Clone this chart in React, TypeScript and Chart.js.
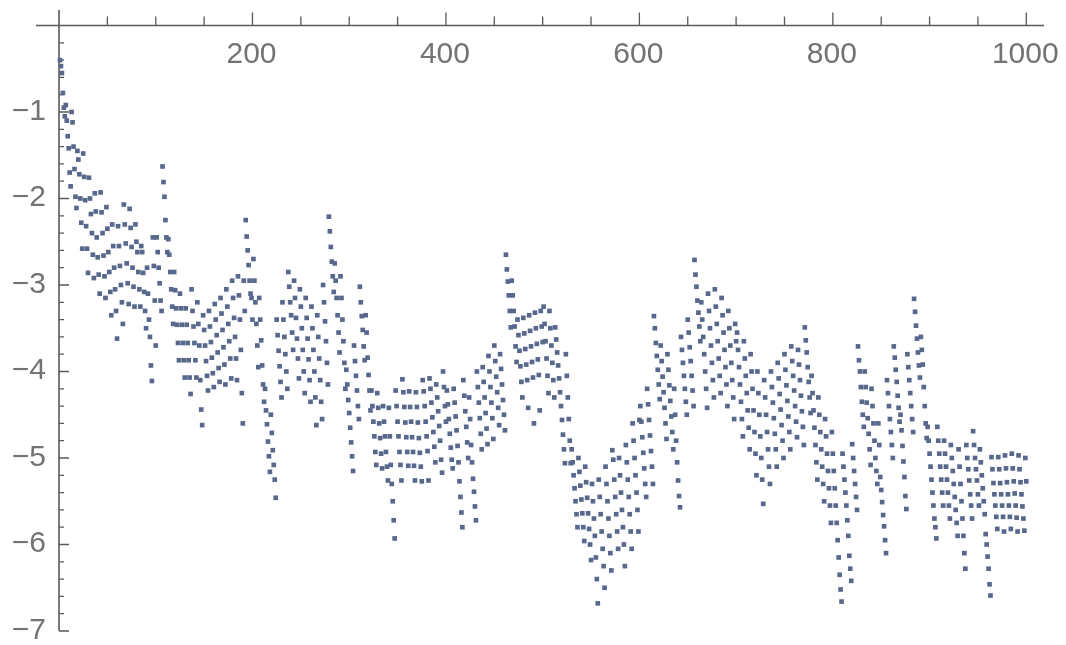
import React, { useEffect, useRef } from "react";
import { Chart, registerables } from "chart.js";
Chart.register(...registerables);

// values for n = 1..100, 101..200, ... (x = position in the full list)
const seg1 = [
  -0.40, -0.47, -0.55, -0.78, -0.95, -1.05,
  -0.92, -1.10, -1.28, -1.42, -1.70, -1.86,
  -1.00, -1.12, -1.40, -1.66, -1.98, -2.11,
  -1.45, -1.55, -1.72, -2.00, -2.28, -2.58,
  -1.48, -1.75, -2.02, -2.32, -2.58, -2.86,
  -1.76, -2.00, -2.18, -2.40, -2.65, -2.92,
  -1.94, -2.15, -2.45, -2.68, -2.88, -3.10,
  -1.93, -2.16, -2.40, -2.66, -2.90, -3.15,
  -2.10, -2.35, -2.62, -2.85, -3.08, -3.35,
  -2.30, -2.55, -2.80, -3.05, -3.30, -3.62,
  -2.32, -2.55, -2.78, -3.00, -3.20, -3.45,
  -2.07, -2.30, -2.52, -2.75, -2.98, -3.22,
  -2.12, -2.34, -2.56, -2.80, -3.02, -3.25,
  -2.30, -2.50, -2.62, -2.85, -3.05, -3.25,
  -2.55, -2.62, -2.86, -3.08, -3.30, -3.50,
  -2.80, -3.10, -3.40, -3.60, -3.93, -4.11,
  -2.45, -2.78, -3.18, -3.70,
];
const seg2 = [
  -2.45, -2.62, -2.80, -2.98, -3.18, -3.30,
  -1.63, -1.81, -1.98, -2.25, -2.45, -2.62,
  -2.47, -2.65, -2.85, -3.05, -3.25, -3.45,
  -2.85, -3.06, -3.27, -3.46, -3.67, -3.87,
  -3.10, -3.27, -3.46, -3.67, -3.87, -4.07,
  -3.27, -3.46, -3.67, -3.87, -4.07, -4.26,
  -3.05, -3.30, -3.48, -3.67, -3.87, -4.07,
  -3.20, -3.45, -3.70, -4.10, -4.44, -4.62,
  -3.35, -3.52, -3.70, -3.88, -4.05, -4.22,
  -3.30, -3.48, -3.66, -3.84, -4.02, -4.18,
  -3.22, -3.40, -3.58, -3.78, -3.96, -4.12,
  -3.15, -3.33, -3.52, -3.72, -3.92, -4.15,
  -3.05, -3.25, -3.45, -3.65, -3.85, -4.08,
  -2.95, -3.15, -3.38, -3.60, -3.85, -4.10,
  -2.90, -3.12, -3.40, -3.75, -4.25, -4.60,
  -2.95, -3.30,
  -2.25, -2.44, -2.60, -2.77, -2.95, -3.10,
  -3.15, -3.40,
];
const seg3 = [
  -2.70, -2.95, -3.20, -3.45, -3.70, -3.95,
  -3.15, -3.40, -3.64, -3.93, -4.15, -4.35,
  -4.20, -4.45, -4.61, -4.81, -4.98, -5.16,
  -4.50, -4.71, -4.91, -5.08, -5.25, -5.46,
  -3.40, -3.58, -3.76, -3.94, -4.12, -4.30,
  -3.20, -3.40, -3.60, -3.80, -4.00, -4.20,
  -2.85, -3.02, -3.20, -3.35, -3.55, -3.75,
  -2.95, -3.15, -3.38, -3.62, -3.85, -4.08,
  -3.05, -3.25, -3.50, -3.75, -4.00, -4.25,
  -3.15, -3.38, -3.62, -3.86, -4.10, -4.35,
  -3.25, -3.50, -3.75, -4.00, -4.30, -4.62,
  -3.35, -3.60, -3.85, -4.10, -4.35, -4.55,
  -3.00, -3.20, -3.42, -3.65, -3.90, -4.15,
  -2.21, -2.38, -2.56, -2.73, -2.90, -3.08,
  -2.75, -2.95, -3.15, -3.35, -3.55, -3.78,
  -2.90, -3.15, -3.40, -3.65, -3.90, -4.20,
  -3.98, -4.15, -4.33, -4.48,
];
const seg4 = [
  -4.65, -4.82, -4.98, -5.15,
  -3.70, -3.88, -4.05, -4.22, -4.40, -4.55,
  -3.02, -3.20, -3.36, -3.52, -3.71, -3.87,
  -3.35, -3.55, -3.84, -4.04, -4.22, -4.45,
  -4.22, -4.40, -4.58, -4.75, -4.93, -5.08,
  -4.25, -4.42, -4.60, -4.77, -4.95, -5.12,
  -4.40, -4.58, -4.75, -4.93, -5.10, -5.26,
  -4.42, -4.75, -5.08, -5.30, -5.50, -5.72, -5.93,
  -4.22, -4.40, -4.58, -4.75, -4.93, -5.08, -5.26,
  -4.09, -4.24, -4.41, -4.59, -4.76, -4.93, -5.09,
  -4.23, -4.41, -4.58, -4.76, -4.93, -5.09, -5.26,
  -4.24, -4.41, -4.59, -4.77, -4.94, -5.10, -5.27,
  -4.10, -4.23, -4.40, -4.58, -4.75, -4.92, -5.26,
  -4.08, -4.20, -4.36, -4.53, -4.70, -4.87, -5.05,
  -4.15, -4.30, -4.46, -4.63, -4.80, -5.02, -5.17,
  -4.00, -4.18, -4.40, -4.58,
];
const seg5 = [
  -4.22, -4.38, -4.55, -4.72, -4.88, -5.02, -5.12,
  -4.20, -4.36, -4.52, -4.68, -4.86, -5.05, -5.27, -5.45, -5.63, -5.80,
  -4.10, -4.28, -4.46, -4.64, -4.82, -5.00,
  -4.30, -4.55, -4.85, -5.05, -5.24, -5.39, -5.56, -5.72,
  -4.00, -4.18, -4.36, -4.54, -4.72, -4.90,
  -3.95, -4.12, -4.30, -4.48, -4.66, -4.84,
  -3.82, -4.00, -4.18, -4.36, -4.54, -4.78,
  -3.70, -3.88, -4.06, -4.24, -4.42, -4.62,
  -3.80, -3.97, -4.15, -4.33, -4.50, -4.68,
  -2.65, -2.82, -2.96, -3.12, -3.30, -3.49,
  -2.95, -3.12, -3.30, -3.48, -3.71, -3.89,
  -3.40, -3.58, -3.76, -3.94, -4.12, -4.30,
  -3.38, -3.56, -3.74, -3.92, -4.10, -4.42,
  -3.35, -3.53, -3.71, -3.89, -4.07, -4.60,
  -3.32, -3.50, -3.68, -3.86, -4.04, -4.45,
  -3.30, -3.48, -3.66,
];
const seg6 = [
  -3.25, -3.45, -3.65, -3.85, -4.05, -4.25,
  -3.30, -3.50, -3.70, -3.90, -4.10, -4.30,
  -3.49, -3.63, -3.78, -3.93, -4.08, -4.24, -4.40, -4.56, -4.73, -4.90, -5.06,
  -3.80, -4.05, -4.30, -4.55, -4.80, -5.06,
  -4.90, -5.05, -5.20, -5.35, -5.50, -5.65, -5.80,
  -5.00, -5.16, -5.32, -5.48, -5.64, -5.80, -5.96,
  -5.10, -5.28, -5.46, -5.64, -5.82, -6.00, -6.18,
  -5.30, -5.50, -5.70, -5.90, -6.15, -6.40, -6.68,
  -5.25, -5.45, -5.65, -5.85, -6.05, -6.25, -6.50,
  -5.10, -5.30, -5.50, -5.70, -5.90, -6.10, -6.30,
  -4.91, -5.02, -5.25, -5.45, -5.65, -5.85, -6.05,
  -5.00, -5.20, -5.40, -5.60, -5.80, -6.00, -6.25,
  -4.85, -5.05, -5.25, -5.45, -5.65, -5.85, -6.05,
  -4.60, -4.80, -5.00, -5.20, -5.40, -5.60, -5.85,
  -4.56,
];
const seg7 = [
  -4.40, -4.58, -4.76, -4.94, -5.12, -5.30, -5.45,
  -4.20, -4.38, -4.56, -4.74, -4.92, -5.10, -5.30,
  -3.36, -3.50, -3.67, -3.82, -3.98, -4.15, -4.32,
  -3.70, -3.88, -4.06, -4.24, -4.42, -4.60, -4.78,
  -3.80, -3.98, -4.16, -4.34, -4.52, -4.70, -4.90,
  -4.20, -4.50, -4.80, -5.05, -5.26, -5.44, -5.57,
  -3.60, -3.75, -3.90, -4.05, -4.20, -4.35, -4.50,
  -3.40, -3.55, -3.72, -3.88, -4.05, -4.22, -4.40,
  -2.71, -2.88, -3.02, -3.18, -3.32, -3.48, -3.65,
  -3.20, -3.40, -3.60, -3.80, -4.00, -4.20, -4.42,
  -3.10, -3.30, -3.50, -3.70, -3.90, -4.10, -4.30,
  -3.05, -3.25, -3.45, -3.65, -3.85, -4.05, -4.25,
  -3.15, -3.35, -3.55, -3.75, -3.95, -4.15, -4.40,
  -3.30, -3.50, -3.70, -3.90, -4.10, -4.30, -4.55,
  -3.45, -3.65,
];
const seg8 = [
  -3.55, -3.75, -3.95, -4.15, -4.35, -4.55, -4.75,
  -3.65, -3.85, -4.05, -4.25, -4.45, -4.65, -4.90,
  -3.80, -4.00, -4.20, -4.45, -4.70, -4.95, -5.20,
  -4.00, -4.25, -4.50, -4.75, -5.00, -5.25, -5.53,
  -4.10, -4.30, -4.50, -4.70, -4.90, -5.10, -5.30,
  -4.00, -4.18, -4.36, -4.54, -4.72, -4.90, -5.10,
  -3.90, -4.08, -4.26, -4.44, -4.62, -4.80, -5.00,
  -3.80, -3.98, -4.16, -4.34, -4.52, -4.70, -4.90,
  -3.71, -3.88, -4.05, -4.22, -4.40, -4.58, -4.76,
  -3.75, -3.92, -4.10, -4.28, -4.46, -4.64, -4.85,
  -3.49, -3.64, -3.78, -3.95, -4.12, -4.30, -4.48,
  -4.05, -4.25, -4.45, -4.65, -4.85, -5.05, -5.25,
  -4.30, -4.50, -4.70, -4.90, -5.10, -5.30, -5.50,
  -4.55, -4.75, -4.95, -5.15, -5.35, -5.55, -5.75,
  -4.70, -4.95,
];
const seg9 = [
  -5.15, -5.35, -5.55, -5.75, -5.95, -6.15, -6.35, -6.52, -6.66,
  -4.95, -5.10, -5.25, -5.40, -5.55, -5.72, -5.90, -6.13, -6.28, -6.42,
  -4.84, -5.00, -5.15, -5.30, -5.45, -5.60,
  -3.71, -3.87, -4.00, -4.18, -4.35, -4.50, -4.64,
  -4.00, -4.18, -4.36, -4.54, -4.72, -4.90, -5.08,
  -4.20, -4.40, -4.60, -4.80, -5.00, -5.15, -5.30,
  -4.60, -4.85, -5.22, -5.37, -5.51, -5.66, -5.79, -5.95,
  -6.10,
  -4.10, -4.25, -4.40, -4.55, -4.70, -4.85, -5.00,
  -3.71, -3.84, -3.98, -4.12, -4.28, -4.42, -4.58,
  -4.50, -4.68, -4.86, -5.04, -5.22, -5.44, -5.59,
  -3.80, -3.95, -4.10, -4.25, -4.40, -4.55, -4.70,
  -3.16, -3.31, -3.47, -3.62, -3.78, -3.93, -4.07,
  -3.60, -3.75, -3.92, -4.18, -4.40, -4.60, -4.77,
  -4.64, -4.80, -4.95,
];
const seg10 = [
  -5.10, -5.25, -5.40, -5.55, -5.70, -5.80, -5.93,
  -4.64, -4.80, -4.95, -5.10, -5.25, -5.40, -5.55,
  -4.80, -4.95, -5.10, -5.25, -5.40, -5.55, -5.70,
  -4.85, -5.00, -5.15, -5.30, -5.45, -5.60, -5.75, -5.90,
  -4.90, -5.10, -5.30, -5.50, -5.70, -5.90, -6.10, -6.28,
  -4.85, -5.00, -5.13, -5.26, -5.42, -5.55, -5.70,
  -4.69, -4.85, -5.00, -5.13, -5.26, -5.42, -5.55,
  -4.90, -5.05, -5.20, -5.35, -5.50, -5.65, -5.88, -6.00, -6.14, -6.28,
  -6.46, -6.59,
  -4.99, -5.13, -5.29, -5.42, -5.55, -5.68, -5.82,
  -4.99, -5.13, -5.29, -5.42, -5.55, -5.68, -5.85,
  -4.97, -5.12, -5.28, -5.42, -5.55, -5.68, -5.82,
  -4.95, -5.12, -5.27, -5.41, -5.55, -5.69, -5.85,
  -4.97, -5.13, -5.28, -5.42, -5.56, -5.70, -5.84,
  -5.00, -5.27,
];

const xTickValues = [200, 400, 600, 800, 1000];
const xTickLabels = ["200", "400", "600", "800", "1000"];
const yTickValues = [-1, -2, -3, -4, -5, -6, -7];
const yTickLabels = ["\u22121", "\u22122", "\u22123", "\u22124", "\u22125", "\u22126", "\u22127"];

const POINT_COLOR = "#58688c";
const AXIS_COLOR = "#5a5a5a";
const LABEL_COLOR = "#737373";
const FONT = '30px "Liberation Sans", Arial, sans-serif';

export default function App() {
  const ref = useRef<HTMLCanvasElement | null>(null);

  useEffect(() => {
    const series = [
      ...seg1, ...seg2, ...seg3, ...seg4, ...seg5,
      ...seg6, ...seg7, ...seg8, ...seg9, ...seg10,
    ];
    const points = series.map((y, i) => ({ x: i + 1, y }));

    const axesPlugin = {
      id: "mmaAxes",
      beforeDatasetsDraw(chart: any) {
        const ctx = chart.ctx;
        const ca = chart.chartArea;
        const xs = chart.scales.x;
        const ys = chart.scales.y;
        const y0 = ys.getPixelForValue(0);
        const x0 = xs.getPixelForValue(0);
        ctx.save();
        ctx.strokeStyle = AXIS_COLOR;
        ctx.lineWidth = 1.6;
        ctx.beginPath();
        ctx.moveTo(ca.left, y0);
        ctx.lineTo(ca.right, y0);
        ctx.moveTo(x0, ca.top);
        ctx.lineTo(x0, ca.bottom);
        ctx.stroke();

        ctx.lineWidth = 1.3;
        ctx.beginPath();
        for (let v = 50; v <= 1000; v += 50) {
          const px = xs.getPixelForValue(v);
          const len = v % 200 === 0 ? 13 : 9;
          ctx.moveTo(px, y0);
          ctx.lineTo(px, y0 - len);
        }
        for (let k = 1; k <= 35; k++) {
          const py = ys.getPixelForValue(-k * 0.2);
          const len = k % 5 === 0 ? 10 : 5;
          ctx.moveTo(x0, py);
          ctx.lineTo(x0 + len, py);
        }
        ctx.stroke();

        ctx.fillStyle = LABEL_COLOR;
        ctx.font = FONT;
        ctx.textAlign = "center";
        ctx.textBaseline = "alphabetic";
        xTickValues.forEach((v, i) => {
          ctx.fillText(xTickLabels[i], xs.getPixelForValue(v) - 1, 63);
        });
        ctx.textAlign = "right";
        yTickValues.forEach((v, i) => {
          ctx.fillText(yTickLabels[i], 46, ys.getPixelForValue(v) + 8);
        });
        ctx.restore();
      },
    };

    const chart = new Chart(ref.current as HTMLCanvasElement, {
      type: "scatter",
      data: {
        datasets: [
          {
            data: points,
            pointStyle: "rect",
            pointRadius: 3.3,
            pointHoverRadius: 3.3,
            backgroundColor: POINT_COLOR,
            borderWidth: 0,
          },
        ],
      },
      options: {
        responsive: false,
        animation: false,
        devicePixelRatio: 1,
        layout: { padding: { left: 36, right: 22, top: 10, bottom: 14 } },
        plugins: { legend: { display: false }, tooltip: { enabled: false } },
        scales: {
          x: { type: "linear", min: -23.8, max: 1018.3, display: false },
          y: { type: "linear", min: -7, max: 0.179, display: false },
        },
      },
      plugins: [axesPlugin],
    });
    return () => chart.destroy();
  }, []);

  return (
    <div style={{ position: "fixed", left: 0, top: 0, width: 1066, height: 645, background: "#fff" }}>
      <canvas ref={ref} width={1066} height={645} style={{ display: "block" }} />
    </div>
  );
}
